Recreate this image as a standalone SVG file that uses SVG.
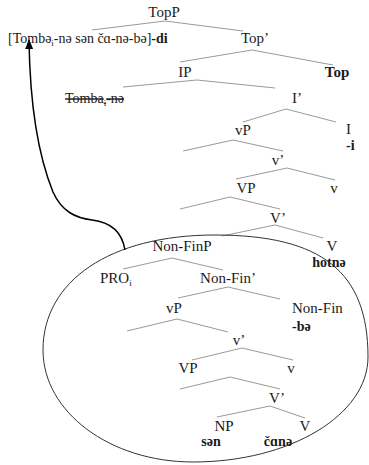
<svg xmlns="http://www.w3.org/2000/svg" width="369" height="465" viewBox="0 0 369 465">
<defs>
<style>
text{font-family:"Liberation Serif","Times New Roman",serif;font-size:15px;fill:#1a1a1a}
.m{text-anchor:middle}
.b{font-weight:bold}
.s{font-size:14px}
.br{fill:none;stroke:#9a9a9a;stroke-width:1}
.sub{font-size:9px}
</style>
<marker id="ah" viewBox="0 0 10 10" refX="9" refY="5" markerWidth="10" markerHeight="10" markerUnits="userSpaceOnUse" orient="auto">
<path d="M0,1 L10,5 L0,9 Z" fill="#000"/>
</marker>
</defs>
<rect width="369" height="465" fill="#fff"/>
<g id="connectors">
<polyline class="br" points="92,30 165,21 243,31"/>
<polyline class="br" points="180,62 252,50 333,65"/>
<polyline class="br" points="123,87 197,80 275,88"/>
<polyline class="br" points="243,122 286,109 336,122"/>
<polyline class="br" points="183,151 233,140 283,151"/>
<polyline class="br" points="236,179 287,168 335,180"/>
<polyline class="br" points="180,209 230,197 280,209"/>
<polyline class="br" points="222,236 275,225 323,238"/>
<polyline class="br" points="123,269 172,258 223,270"/>
<polyline class="br" points="178,298 228,287 280,299"/>
<polyline class="br" points="127,331 177,319 228,332"/>
<polyline class="br" points="192,360 242,348 293,360"/>
<polyline class="br" points="180,389 230,377 280,389"/>
<polyline class="br" points="217,417 270,406 305,418"/>
<path id="circle" d="M215,235 C322,235 368,272 368,357 C368,415 290,462 193,462 C110,462 43,412 43,350 C43,281 110,235 215,235 Z" fill="none" stroke="#333" stroke-width="1"/>
<path id="arrow" d="M125,250 C122,232 110,222 92,220 C76,218 62,212 53,192 C40,160 30,110 29,40" fill="none" stroke="#000" stroke-width="1.5" marker-end="url(#ah)"/>
</g>
<g id="TopP"><text class="m" x="164" y="17">TopP</text></g>
<g id="clause"><text class="s" x="8" y="43">[Tombə<tspan class="sub" dy="3">i</tspan><tspan dy="-3">-nə sən čɑ-nə-bə]</tspan><tspan class="b">-di</tspan></text></g>
<g id="TopBar"><text class="m" x="255" y="43">Top’</text></g>
<g id="IP"><text class="m" x="185" y="77">IP</text></g>
<g id="Top"><text class="m b" x="337" y="77">Top</text></g>
<g id="Tomba"><text class="s" x="65" y="103" text-decoration="line-through">Tomba<tspan class="sub" dy="3">i</tspan><tspan dy="-3">-nə</tspan></text></g>
<g id="IBar"><text class="m" x="297" y="103">I’</text></g>
<g id="vP1"><text class="m" x="243" y="135">vP</text></g>
<g id="I"><text x="346" y="134">I</text><text class="b s" x="346" y="150">-i</text></g>
<g id="vBar1"><text class="m" x="278" y="165">v’</text></g>
<g id="VP1"><text class="m" x="246" y="193">VP</text></g>
<g id="v1"><text class="m" x="334" y="193">v</text></g>
<g id="VBar1"><text class="m" x="278" y="223">V’</text></g>
<g id="NonFinP"><text class="m" x="182" y="251">Non-FinP</text></g>
<g id="V1"><text class="m" x="332" y="251">V</text><text class="m b s" x="329" y="267">hotnə</text></g>
<g id="PRO"><text x="100" y="283">PRO<tspan class="sub" dy="3">i</tspan></text></g>
<g id="NonFinBar"><text class="m" x="228" y="283">Non-Fin’</text></g>
<g id="vP2"><text class="m" x="174" y="313">vP</text></g>
<g id="NonFin"><text x="292" y="313">Non-Fin</text><text class="b s" x="292" y="331">-bə</text></g>
<g id="vBar2"><text class="m" x="239" y="345">v’</text></g>
<g id="VP2"><text class="m" x="188" y="373">VP</text></g>
<g id="v2"><text class="m" x="291" y="373">v</text></g>
<g id="VBar2"><text class="m" x="277" y="403">V’</text></g>
<g id="NP"><text class="m" x="224" y="431">NP</text><text class="m b s" x="211" y="446">sən</text></g>
<g id="V2"><text class="m" x="305" y="431">V</text><text class="m b s" x="278" y="446">čɑnə</text></g>
</svg>
